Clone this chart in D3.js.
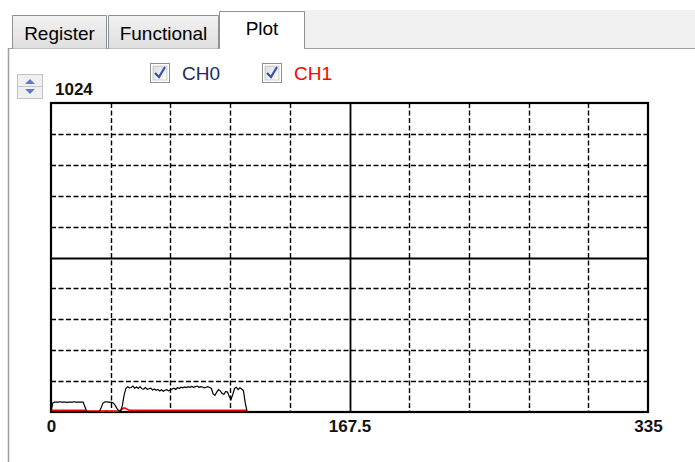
<!DOCTYPE html>
<html><head><meta charset="utf-8">
<script src="https://d3js.org/d3.v7.min.js"></script>
<style>html,body{margin:0;padding:0;background:#fff;overflow:hidden}svg{display:block}</style>
</head><body>
<script>
// ---- data ----
const tabNames = ["Register", "Functional", "Plot"];
const channelNames = ["CH0", "CH1"];
const xMax = 335;
const yMax = 1024;
const xTickLabels = [0, 167.5, 335];
// CH0 sample values (index = sample number)
const ch0 = [0,30,33,33,33,34,33,33,33,32,33,33,33,34,33,33,33,33,33,18,2,0,0,0,0,0,0,0,12,28,
  33,34,33,33,32,30,22,12,4,3,20,55,78,84,80,81,86,79,83,78,84,77,76,81,75,77,79,73,76,72,
  75,70,74,69,72,74,70,73,76,79,75,81,78,82,80,83,81,84,82,85,82,84,86,82,84,83,80,82,84,81,
  78,60,55,66,74,70,62,58,68,66,52,42,58,78,82,74,80,76,70,30,2];
// CH1 sample values
const ch1 = [6,6,6,6,6,6,6,6,6,6,6,6,6,6,6,6,6,6,6,6,4,3,3,3,3,3,3,3,3,3,
  3,4,3,3,3,3,3,3,4,6,10,14,12,8,6,6,6,6,6,6,6,6,6,6,6,6,6,6,6,6,
  6,6,6,6,6,6,6,6,6,6,6,6,6,6,6,6,6,6,6,6,6,6,6,6,6,6,6,6,6,6,
  6,6,6,6,6,6,6,6,6,6,6,6,6,6,6,6,6,6,6,6,1];

const W = 695, H = 462;
const svg = d3.select("body").append("svg").attr("width", W).attr("height", H);
const font = "'Liberation Sans', Arial, sans-serif";

const defs = svg.append("defs");
const g1 = defs.append("linearGradient").attr("id","tabg").attr("x1",0).attr("y1",0).attr("x2",0).attr("y2",1);
g1.append("stop").attr("offset","0%").attr("stop-color","#f2f2f2");
g1.append("stop").attr("offset","100%").attr("stop-color","#dedede");
const g2 = defs.append("linearGradient").attr("id","cbg").attr("x1",0).attr("y1",0).attr("x2",1).attr("y2",1);
g2.append("stop").attr("offset","0%").attr("stop-color","#dcdcdc");
g2.append("stop").attr("offset","100%").attr("stop-color","#ffffff");

// ---- tab strip ----
svg.append("rect").attr("x",304).attr("y",10).attr("width",W-304).attr("height",38).attr("fill","#f0f0f0");
svg.append("line").attr("x1",8).attr("x2",W).attr("y1",48.5).attr("y2",48.5).attr("stroke","#a0a0a0");
svg.append("line").attr("x1",8.5).attr("x2",8.5).attr("y1",48).attr("y2",H).attr("stroke","#a0a0a0").attr("stroke-width",1.5);

const tabs = [{x:12,w:95,y:15},{x:108,w:111,y:15},{x:219,w:86,y:11}];
tabs.forEach((t,i)=>{
  const sel = i===2;
  svg.append("path")
    .attr("d",`M${t.x+0.5},${sel?48:48.5}V${t.y+0.5}H${t.x+t.w-0.5}V${sel?48:48.5}`)
    .attr("fill", sel ? "#ffffff" : "url(#tabg)")
    .attr("stroke","#8d9096");
  if (sel) svg.append("rect").attr("x",t.x+1).attr("y",47).attr("width",t.w-2).attr("height",3).attr("fill","#fff");
  svg.append("text").attr("x", t.x + t.w/2).attr("y", sel ? 35 : 40)
    .attr("text-anchor","middle").attr("font-family",font).attr("font-size",19)
    .attr("fill","#000").text(tabNames[i]);
});

// ---- spinner ----
const sp = svg.append("g");
sp.append("rect").attr("x",17.5).attr("y",74.5).attr("width",25).attr("height",24).attr("fill","#f0f0f0").attr("stroke","#c4c4c4");
sp.append("line").attr("x1",18).attr("x2",42).attr("y1",86.5).attr("y2",86.5).attr("stroke","#c4c4c4");
sp.append("path").attr("d","M25,84 L30,79 L35,84 Z").attr("fill","#5d7cc9");
sp.append("path").attr("d","M25,89 L30,94 L35,89 Z").attr("fill","#5d7cc9");

// ---- checkboxes ----
const cbx = [150, 262];
const cbColors = ["#1a2a5e", "#ff0000"];
channelNames.forEach((n,i)=>{
  const x = cbx[i];
  svg.append("rect").attr("x",x+0.5).attr("y",63.5).attr("width",19).attr("height",19).attr("fill","#fff").attr("stroke","#8e8f8f");
  svg.append("rect").attr("x",x+3).attr("y",66).attr("width",14).attr("height",14).attr("fill","url(#cbg)").attr("stroke","#b0b0b0").attr("stroke-width",0.6);
  svg.append("path").attr("d",`M${x+5},73 L${x+9},77 L${x+15},67`)
    .attr("fill","none").attr("stroke","#3b52a3").attr("stroke-width",2.2);
  svg.append("text").attr("x",x+32).attr("y",80).attr("font-family",font).attr("font-size",19)
    .attr("fill",cbColors[i]).text(n);
});

// ---- plot ----
const x = d3.scaleLinear().domain([0,xMax]).range([51,648]);
const y = d3.scaleLinear().domain([0,yMax]).range([412,103]);

svg.append("text").attr("x",55).attr("y",95).attr("font-family",font).attr("font-weight","bold")
  .attr("font-size",17).attr("fill","#111").text(yMax);

const grid = svg.append("g");
const xs = d3.range(1,10).map(i=>i*xMax/10);
const ys = d3.range(1,10).map(i=>i*yMax/10);
grid.selectAll(".vx").data(xs).join("line")
  .attr("x1",d=>Math.round(x(d))+0.5).attr("x2",d=>Math.round(x(d))+0.5)
  .attr("y1",y(yMax)).attr("y2",y(0))
  .attr("stroke","#000").attr("stroke-width",(d,i)=>i===4?1.8:1.4)
  .attr("stroke-dasharray",(d,i)=>i===4?null:"5,2.5");
grid.selectAll(".hy").data(ys).join("line")
  .attr("y1",d=>Math.round(y(d))+0.5).attr("y2",d=>Math.round(y(d))+0.5)
  .attr("x1",x(0)).attr("x2",x(xMax))
  .attr("stroke","#000").attr("stroke-width",(d,i)=>i===4?1.8:1.4)
  .attr("stroke-dasharray",(d,i)=>i===4?null:"5,2.5");

svg.append("rect").attr("x",x(0)).attr("y",y(yMax)).attr("width",x(xMax)-x(0)).attr("height",y(0)-y(yMax))
  .attr("fill","none").attr("stroke","#000").attr("stroke-width",2.2);

const line = d3.line().x((d,i)=>x(i)).y(d=>y(d));
svg.append("path").datum(ch1).attr("d",line).attr("fill","none").attr("stroke","#ff0000").attr("stroke-width",1.6);
svg.append("path").datum(ch0).attr("d",line).attr("fill","none").attr("stroke","#000").attr("stroke-width",1.2);

// x axis labels
const xa = d3.axisBottom(x).tickValues(xTickLabels).tickSize(0).tickPadding(6).tickFormat(d=>d);
const ag = svg.append("g").attr("transform",`translate(0,${y(0)+2})`).call(xa);
ag.select(".domain").remove();
ag.selectAll("text").attr("font-family",font).attr("font-weight","bold").attr("font-size",17).attr("fill","#111");
</script>
</body></html>
